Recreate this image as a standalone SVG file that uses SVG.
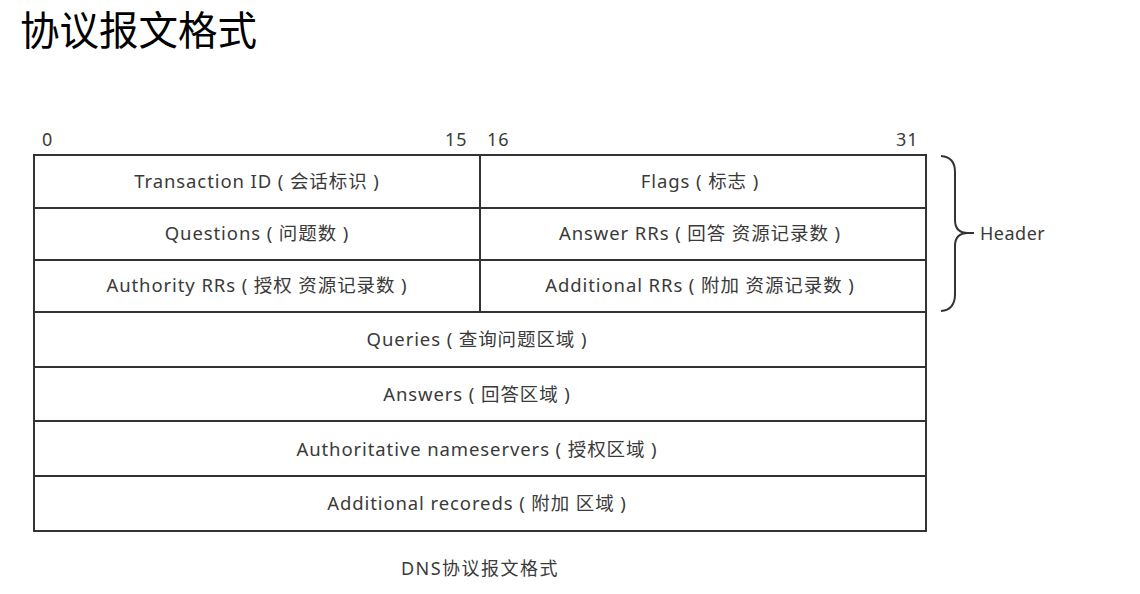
<svg xmlns="http://www.w3.org/2000/svg" width="1140" height="594" viewBox="0 0 1140 594">
<style>
.t{font-family:"Noto Sans","Noto Sans CJK SC",sans-serif;font-size:18.5px;letter-spacing:0.9px;fill:#3a3a3a;text-anchor:middle}
.n{font-family:"Noto Sans","Noto Sans CJK SC",sans-serif;font-size:18px;fill:#3a3a3a}
.cell{fill:#fff;stroke:#333;stroke-width:2}
</style>
<rect width="1140" height="594" fill="#fff"/>
<text x="20" y="45" font-family="'Noto Sans CJK SC',sans-serif" font-size="39.5" fill="#000">协议报文格式</text>
<g id="bits">
<text class="n" x="42" y="146">0</text>
<text class="n" x="445" y="146" letter-spacing="1">15</text>
<text class="n" x="487" y="146" letter-spacing="1">16</text>
<text class="n" x="896" y="146" letter-spacing="1">31</text>
</g>
<g id="transaction-id"><rect class="cell" x="34" y="155" width="446" height="53"/><text class="t" x="257" y="188">Transaction ID ( 会话标识 )</text></g>
<g id="flags"><rect class="cell" x="480" y="155" width="446" height="53"/><text class="t" x="700" y="188">Flags ( 标志 )</text></g>
<g id="questions"><rect class="cell" x="34" y="208" width="446" height="52"/><text class="t" x="257" y="240">Questions ( 问题数 )</text></g>
<g id="answer-rrs"><rect class="cell" x="480" y="208" width="446" height="52"/><text class="t" x="700" y="240">Answer RRs ( 回答 资源记录数 )</text></g>
<g id="authority-rrs"><rect class="cell" x="34" y="260" width="446" height="52"/><text class="t" x="257" y="292">Authority RRs ( 授权 资源记录数 )</text></g>
<g id="additional-rrs"><rect class="cell" x="480" y="260" width="446" height="52"/><text class="t" x="700" y="292">Additional RRs ( 附加 资源记录数 )</text></g>
<g id="queries"><rect class="cell" x="34" y="312" width="892" height="55"/><text class="t" x="477" y="346">Queries ( 查询问题区域 )</text></g>
<g id="answers"><rect class="cell" x="34" y="367" width="892" height="54"/><text class="t" x="477" y="401">Answers ( 回答区域 )</text></g>
<g id="authoritative"><rect class="cell" x="34" y="421" width="892" height="55"/><text class="t" x="477" y="456">Authoritative nameservers ( 授权区域 )</text></g>
<g id="additional"><rect class="cell" x="34" y="476" width="892" height="55"/><text class="t" x="477" y="510">Additional recoreds ( 附加 区域 )</text></g>
<g id="connectors">
<path d="M941 156 Q955 157 955 172 L955 220 Q955 233 968 233 L974 233 M968 233 Q955 233 955 246 L955 294 Q955 310 941 311" fill="none" stroke="#333" stroke-width="2"/>
</g>
<g id="header"><text class="n" x="980" y="240" font-size="19.5" letter-spacing="0.5">Header</text></g>
<g id="caption"><text class="n" x="480" y="575" text-anchor="middle" letter-spacing="1.5">DNS协议报文格式</text></g>
</svg>
